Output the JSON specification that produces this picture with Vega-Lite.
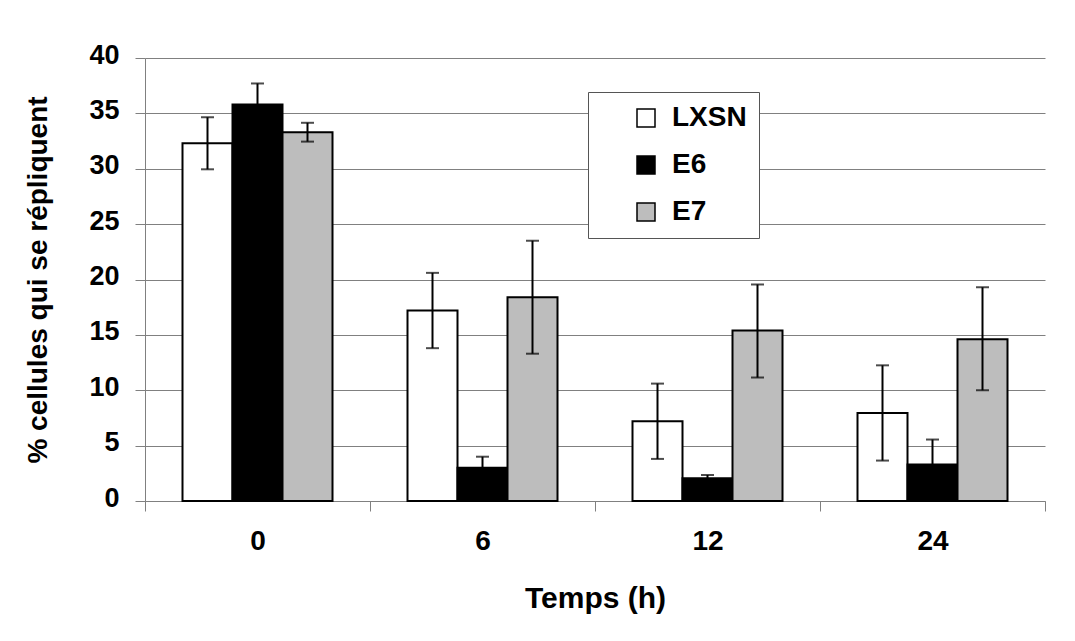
{
  "$schema": "https://vega.github.io/schema/vega-lite/v6.json",
  "width": 900,
  "height": 443,
  "autosize": {"type": "none"},
  "padding": {"left": 145, "top": 58, "right": 30, "bottom": 140},
  "background": "white",
  "config": {
    "font": "Liberation Sans",
    "view": {"stroke": null}
  },
  "data": {
    "values": [
      {"time": "0", "group": "LXSN", "value": 32.3, "lo": 29.95, "hi": 34.65},
      {"time": "0", "group": "E6", "value": 35.8, "lo": 33.9, "hi": 37.7},
      {"time": "0", "group": "E7", "value": 33.3, "lo": 32.45, "hi": 34.15},
      {"time": "6", "group": "LXSN", "value": 17.2, "lo": 13.8, "hi": 20.6},
      {"time": "6", "group": "E6", "value": 3.0, "lo": 2.0, "hi": 4.0},
      {"time": "6", "group": "E7", "value": 18.4, "lo": 13.3, "hi": 23.5},
      {"time": "12", "group": "LXSN", "value": 7.2, "lo": 3.8, "hi": 10.6},
      {"time": "12", "group": "E6", "value": 2.05, "lo": 1.75, "hi": 2.35},
      {"time": "12", "group": "E7", "value": 15.4, "lo": 11.15, "hi": 19.55},
      {"time": "24", "group": "LXSN", "value": 7.95, "lo": 3.65, "hi": 12.25},
      {"time": "24", "group": "E6", "value": 3.3, "lo": 1.05, "hi": 5.55},
      {"time": "24", "group": "E7", "value": 14.6, "lo": 10.0, "hi": 19.3}
    ]
  },
  "encoding": {
    "x": {
      "field": "time",
      "type": "nominal",
      "sort": ["0", "6", "12", "24"],
      "title": "Temps (h)",
      "scale": {"paddingInner": 0, "paddingOuter": 0},
      "axis": {
        "labelAngle": 0,
        "tickBand": "extent",
        "tickSize": 10,
        "tickColor": "#808080",
        "domainColor": "#808080",
        "labelPadding": 16,
        "labelFontSize": 28,
        "labelFontWeight": "bold",
        "labelColor": "black",
        "titleFontSize": 30,
        "titleFontWeight": "bold",
        "titleColor": "black",
        "titlePadding": 28,
        "grid": false
      }
    },
    "xOffset": {
      "field": "group",
      "type": "nominal",
      "sort": ["LXSN", "E6", "E7"],
      "scale": {"paddingInner": 0, "paddingOuter": 0.75}
    }
  },
  "layer": [
    {
      "mark": {"type": "bar", "stroke": "black", "strokeWidth": 2},
      "encoding": {
        "y": {
          "field": "value",
          "type": "quantitative",
          "title": "% cellules qui se répliquent",
          "scale": {"domain": [0, 40]},
          "axis": {
            "values": [0, 5, 10, 15, 20, 25, 30, 35, 40],
            "tickSize": 10,
            "tickColor": "#808080",
            "domainColor": "#808080",
            "gridColor": "#808080",
            "gridWidth": 1,
            "labelPadding": 16,
            "labelOffset": -3,
            "labelFontSize": 27,
            "labelFontWeight": "bold",
            "labelColor": "black",
            "titleFontSize": 28,
            "titleFontWeight": "bold",
            "titleColor": "black",
            "titlePadding": 36
          }
        },
        "fill": {
          "field": "group",
          "type": "nominal",
          "sort": ["LXSN", "E6", "E7"],
          "scale": {"domain": ["LXSN", "E6", "E7"], "range": ["white", "black", "#bdbdbd"]},
          "legend": {
            "title": null,
            "orient": "none",
            "legendX": 443,
            "legendY": 34,
            "padding": 12,
            "symbolOffset": 32,
            "symbolType": "square",
            "symbolSize": 324,
            "symbolStrokeColor": "black",
            "symbolStrokeWidth": 1.5,
            "labelFontSize": 28,
            "labelFontWeight": "bold",
            "labelColor": "black",
            "labelOffset": 12,
            "rowPadding": 19,
            "strokeColor": "#555555",
            "fillColor": "white"
          }
        }
      }
    },
    {
      "mark": {"type": "rule", "strokeWidth": 2, "color": "black"},
      "encoding": {
        "y": {"field": "lo", "type": "quantitative", "title": "% cellules qui se répliquent"},
        "y2": {"field": "hi"}
      }
    },
    {
      "mark": {"type": "tick", "orient": "horizontal", "size": 13, "thickness": 2, "color": "black"},
      "encoding": {
        "y": {"field": "lo", "type": "quantitative", "title": "% cellules qui se répliquent"}
      }
    },
    {
      "mark": {"type": "tick", "orient": "horizontal", "size": 13, "thickness": 2, "color": "black"},
      "encoding": {
        "y": {"field": "hi", "type": "quantitative", "title": "% cellules qui se répliquent"}
      }
    }
  ]
}
